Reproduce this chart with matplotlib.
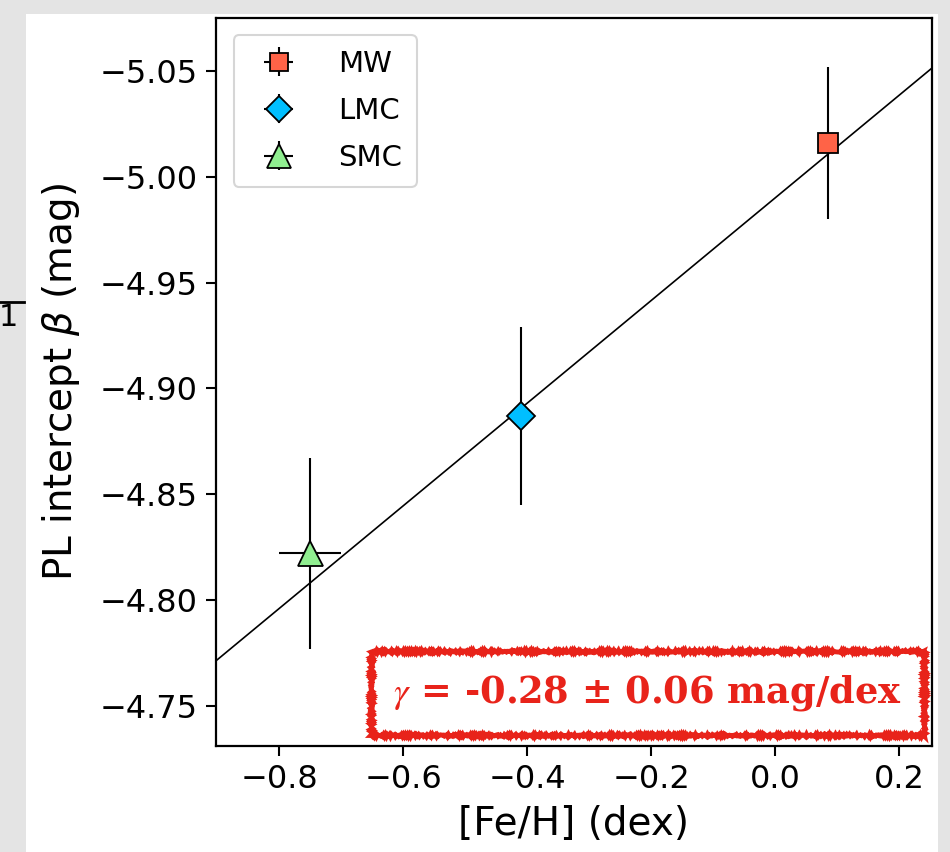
import matplotlib as mpl
import matplotlib.pyplot as plt
import numpy as np
from matplotlib.patches import Rectangle

# data
names = ['MW', 'LMC', 'SMC']
feh = [0.085, -0.41, -0.75]
feh_err = [0.016, 0.0, 0.05]
beta = [-5.016, -4.887, -4.822]
beta_err = [0.036, 0.042, 0.045]
colors = ['#ff6347', '#00bfff', '#90ee90']
markers = ['s', 'D', '^']
msizes = [14, 14, 18]

fit_slope = -0.2425
fit_intercept = -4.990

fig = plt.figure(figsize=(9.5, 8.52), dpi=100, facecolor='#e4e4e4')

# paper-like white sheet behind the plot
sheet = Rectangle((26 / 950, 0), (938 - 26) / 950, 1 - 14 / 852,
                  transform=fig.transFigure, facecolor='white',
                  edgecolor='none', zorder=-5)
fig.add_artist(sheet)
fig.text(8 / 950, 1 - 318 / 852, '1', fontsize=22, ha='center', va='center')
fig.add_artist(plt.Line2D([0, 24 / 950], [1 - 302 / 852] * 2,
                          transform=fig.transFigure, color='black', lw=2))

ax = fig.add_axes([216 / 950, 1 - 746 / 852, (932 - 216) / 950, (746 - 18) / 852])

xx = np.array([-0.95, 0.3])
ax.plot(xx, fit_slope * xx + fit_intercept, color='black', lw=1.2, zorder=1)

for n, x, xe, y, ye, c, m, s in zip(names, feh, feh_err, beta, beta_err,
                                    colors, markers, msizes):
    ax.errorbar(x, y, xerr=xe, yerr=ye, fmt=m, color='black', mfc=c, mec='black',
                ms=s, mew=1.3, elinewidth=1.5, capsize=0, label=n, zorder=3)

ax.set_xlim(-0.902, 0.253)
ax.set_ylim(-4.731, -5.075)
ax.set_xticks([-0.8, -0.6, -0.4, -0.2, 0.0, 0.2])
ax.set_yticks([-5.05, -5.00, -4.95, -4.90, -4.85, -4.80, -4.75])
ax.tick_params(labelsize=23, length=7, width=1.5, pad=6)
for sp in ax.spines.values():
    sp.set_linewidth(1.6)
ax.set_xlabel('[Fe/H] (dex)', fontsize=28, labelpad=7)
ax.set_ylabel(r'PL intercept $\beta$ (mag)', fontsize=28, labelpad=13)

leg = ax.legend(loc='upper left', fontsize=21, handletextpad=1.0,
                borderpad=0.5, labelspacing=0.65, handlelength=2.1,
                borderaxespad=0.6, markerscale=0.95)
leg.get_frame().set_linewidth(1.5)

t = ax.text(0.958, 0.045, r'$\gamma$ = -0.28 ± 0.06 mag/dex', transform=ax.transAxes,
            ha='right', va='bottom', fontsize=26.5, fontweight='bold',
            family='DejaVu Serif', color='#e8231a', math_fontfamily='stix',
            bbox=dict(boxstyle='square,pad=0.6', facecolor='white',
                      edgecolor='#e8231a', linewidth=3.5))
t.get_bbox_patch().set_sketch_params(1.1, 2, 1.5)

plt.savefig('out.png', dpi=100, facecolor=fig.get_facecolor())
